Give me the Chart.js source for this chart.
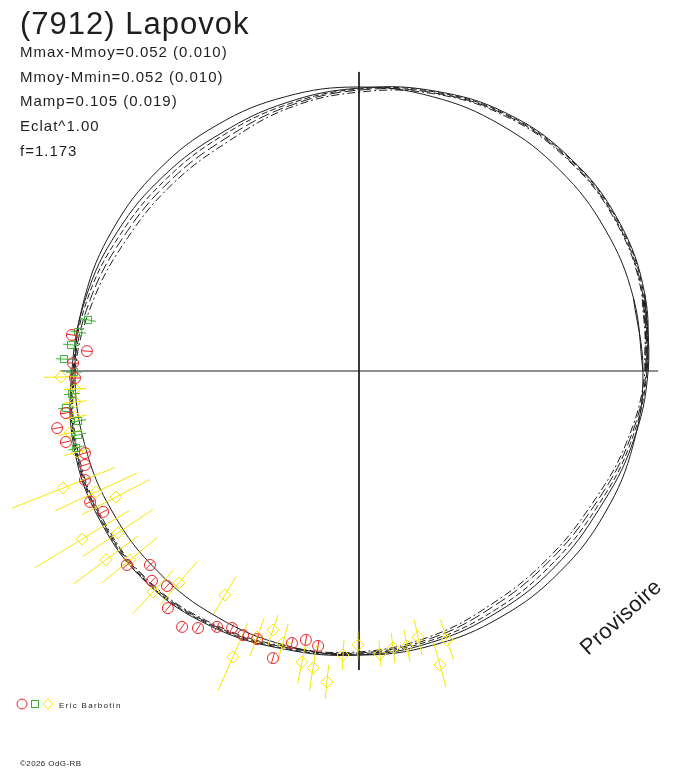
<!DOCTYPE html>
<html>
<head>
<meta charset="utf-8">
<script src="https://cdn.jsdelivr.net/npm/chart.js@4/dist/chart.umd.min.js"></script>
<style>
  html, body { margin: 0; padding: 0; background: #fff; }
  #lc { display: block; }
</style>
</head>
<body>
<canvas id="lc" width="688" height="768"></canvas>
<script>
// Polar light curve: angle = rotation phase, radius = 1 + scaled magnitude

// Phase angles (deg) for the fitted curves
const PHASE_DEG = [0, 15, 30, 45, 60, 75, 90, 105, 120, 135, 150, 165,
                   180, 195, 210, 225, 240, 255, 270, 285, 300, 315, 330, 345];

// Fourier fits, radius at each phase
const FIT_A = [1.018, 1.042, 1.056, 1.056, 1.046, 1.021, 0.996, 0.979, 0.968, 0.972, 0.982, 0.996,
               1.011, 1.039, 1.053, 1.056, 1.039, 1.014, 1.000, 0.989, 0.979, 0.975, 0.975, 0.996];
const FIT_B = [1.014, 1.039, 1.053, 1.053, 1.042, 1.018, 0.993, 0.972, 0.958, 0.958, 0.968, 0.989,
               1.007, 1.035, 1.049, 1.053, 1.035, 1.011, 0.996, 0.982, 0.968, 0.961, 0.965, 0.989];
const FIT_C = [1.011, 1.035, 1.049, 1.049, 1.039, 1.014, 0.989, 0.965, 0.944, 0.944, 0.954, 0.979,
               1.004, 1.032, 1.046, 1.049, 1.032, 1.007, 0.993, 0.975, 0.954, 0.947, 0.954, 0.982];
const FIT_D = [1.007, 1.032, 1.046, 1.046, 1.035, 1.011, 0.982, 0.958, 0.930, 0.930, 0.940, 0.968,
               1.000, 1.028, 1.042, 1.046, 1.028, 1.004, 0.989, 0.968, 0.944, 0.937, 0.944, 0.975];
const REF_R = 1.0;       // mean magnitude circle
const AXIS_HALF = 1.053; // cross hair half length

// Observations (x, y) and radial error
const RED_X = [-1.011, -0.958, -1.007, -1.000, -1.032, -1.063, -1.032, -0.965, -0.965, -0.965, -0.947, -0.901,
               -0.817, -0.736, -0.729, -0.676, -0.673, -0.623, -0.567, -0.500, -0.447, -0.408, -0.359, -0.303,
               -0.236, -0.187, -0.144];
const RED_Y = [0.127, 0.070, 0.028, -0.025, -0.148, -0.201, -0.250, -0.289, -0.331, -0.384, -0.461, -0.496,
               -0.683, -0.683, -0.739, -0.757, -0.835, -0.901, -0.905, -0.901, -0.905, -0.930, -0.944, -1.011,
               -0.958, -0.947, -0.968];
const RED_ERR = 0.018;

const GREEN_X = [-0.954, -0.989, -1.014, -1.039, -1.004, -1.011, -1.032, -0.989, -0.989, -0.996];
const GREEN_Y = [0.180, 0.137, 0.092, 0.042, -0.004, -0.081, -0.130, -0.176, -0.225, -0.271];
const GREEN_ERR = 0.028;

const YELLOW_X = [-1.049, -1.000, -1.000, -1.000, -1.018, -0.993, -1.042, -0.926, -0.856, -0.975, -0.849,
                  -0.891, -0.806, -0.725, -0.634, -0.472, -0.444, -0.359, -0.303, -0.268, -0.201, -0.162,
                  -0.113, -0.056, -0.004, 0.074, 0.120, 0.169, 0.208, 0.285, 0.310];
const YELLOW_Y = [-0.021, -0.063, -0.109, -0.162, -0.218, -0.285, -0.412, -0.426, -0.444, -0.592, -0.570,
                  -0.665, -0.665, -0.778, -0.746, -0.789, -1.007, -0.937, -0.912, -0.958, -1.025, -1.046,
                  -1.095, -1.000, -0.965, -0.996, -0.975, -0.968, -0.937, -1.035, -0.947];
const YELLOW_ERR = [0.060, 0.039, 0.042, 0.042, 0.042, 0.046, 0.194, 0.158, 0.134, 0.194, 0.148,
                    0.141, 0.127, 0.106, 0.099, 0.077, 0.130, 0.070, 0.056, 0.070, 0.077, 0.081,
                    0.060, 0.053, 0.049, 0.046, 0.053, 0.056, 0.063, 0.081, 0.074];

// Texts
const TITLE = '(7912) Lapovok';
const STATS = ['Mmax-Mmoy=0.052 (0.010)', 'Mmoy-Mmin=0.052 (0.010)', 'Mamp=0.105 (0.019)', 'Eclat^1.00', 'f=1.173'];
const OBSERVER = 'Eric Barbotin';
const STAMP = 'Provisoire';
const FOOTER = '\u00a92026 OdG-RB';

const RED = 'rgb(232,40,44)';
const GREEN = 'rgb(60,176,52)';
const YELLOW = 'rgb(246,230,0)';
const INK = '#1e1e1e';

// page geometry: pole at (359,371), 284 px per unit
const CX = 359, CY = 371, UNIT = 284, W = 688, H = 768;

function closedLoop(radii) {
  const pts = radii.map((r, i) => {
    const a = PHASE_DEG[i] * Math.PI / 180;
    return {x: r * Math.cos(a), y: r * Math.sin(a)};
  });
  // repeat first two so the spline closes smoothly
  return pts.concat([pts[0], pts[1]]);
}

function zipPts(xs, ys) {
  return xs.map((x, i) => ({x: x, y: ys[i]}));
}

function curve(radii, dash, order) {
  return {
    data: closedLoop(radii), showLine: true, pointRadius: 0, borderColor: INK,
    borderWidth: 1, borderDash: dash, tension: 0.4, order: order
  };
}

/** radial error bars, drawn right after their dataset */
const errorBars = {
  id: 'errorBars',
  afterDatasetDraw(chart, args) {
    const ds = chart.data.datasets[args.index];
    if (ds.err === undefined) return;
    const ctx = chart.ctx, sx = chart.scales.x, sy = chart.scales.y;
    ctx.save();
    ctx.strokeStyle = ds.borderColor;
    ctx.lineWidth = 1;
    ds.data.forEach((p, i) => {
      const e = Array.isArray(ds.err) ? ds.err[i] : ds.err;
      const r = Math.hypot(p.x, p.y);
      const ux = p.x / r, uy = p.y / r;
      ctx.beginPath();
      ctx.moveTo(sx.getPixelForValue(p.x - e * ux), sy.getPixelForValue(p.y - e * uy));
      ctx.lineTo(sx.getPixelForValue(p.x + e * ux), sy.getPixelForValue(p.y + e * uy));
      ctx.stroke();
    });
    ctx.restore();
  }
};

/** headers, legend, stamp and footer */
const annotations = {
  id: 'annotations',
  afterDraw(chart) {
    const ctx = chart.ctx;
    ctx.save();
    ctx.fillStyle = INK;
    ctx.textBaseline = 'alphabetic';
    ctx.textAlign = 'left';

    ctx.font = '31px "Liberation Sans", Arial, sans-serif';
    ctx.letterSpacing = '1px';
    ctx.fillText(TITLE, 20, 34);

    ctx.font = '15px "Liberation Sans", Arial, sans-serif';
    ctx.letterSpacing = '1px';
    STATS.forEach((s, i) => ctx.fillText(s, 20, 57 + i * 24.7));

    // observer legend
    ctx.lineWidth = 1;
    ctx.strokeStyle = RED;
    ctx.beginPath(); ctx.arc(22, 704, 5, 0, 2 * Math.PI); ctx.stroke();
    ctx.strokeStyle = GREEN;
    ctx.strokeRect(31.5, 700.5, 7, 7);
    ctx.strokeStyle = YELLOW;
    ctx.beginPath();
    ctx.moveTo(48, 699); ctx.lineTo(53, 704); ctx.lineTo(48, 709); ctx.lineTo(43, 704); ctx.closePath();
    ctx.stroke();
    ctx.font = '8px "Liberation Sans", Arial, sans-serif';
    ctx.letterSpacing = '1.3px';
    ctx.fillText(OBSERVER, 59, 708);

    ctx.letterSpacing = '0.4px';
    ctx.fillText(FOOTER, 20, 766);

    ctx.font = '22px "Liberation Sans", Arial, sans-serif';
    ctx.letterSpacing = '0.3px';
    ctx.translate(588, 656);
    ctx.rotate(-42 * Math.PI / 180);
    ctx.fillText(STAMP, 0, 0);
    ctx.restore();
  }
};

new Chart(document.getElementById('lc'), {
  type: 'scatter',
  data: {
    datasets: [
      {data: [{x: -AXIS_HALF, y: 0}, {x: AXIS_HALF, y: 0}], showLine: true, pointRadius: 0,
       borderColor: INK, borderWidth: 1, order: 20},
      {data: [{x: 0, y: AXIS_HALF}, {x: 0, y: -AXIS_HALF}], showLine: true, pointRadius: 0,
       borderColor: INK, borderWidth: 1, order: 20},
      curve(PHASE_DEG.map(() => REF_R), [], 15),
      curve(FIT_A, [], 14),
      curve(FIT_B, [6, 3], 13),
      curve(FIT_C, [11, 4], 12),
      curve(FIT_D, [8, 3, 2, 3], 11),
      {data: zipPts(YELLOW_X, YELLOW_Y), err: YELLOW_ERR, pointStyle: 'rectRot', pointRadius: 6,
       borderColor: YELLOW, backgroundColor: 'rgba(0,0,0,0)', borderWidth: 1, order: 3},
      {data: zipPts(GREEN_X, GREEN_Y), err: GREEN_ERR, pointStyle: 'rect', pointRadius: 5,
       borderColor: GREEN, backgroundColor: 'rgba(0,0,0,0)', borderWidth: 1, order: 2},
      {data: zipPts(RED_X, RED_Y), err: RED_ERR, pointStyle: 'circle', pointRadius: 5.5,
       borderColor: RED, backgroundColor: 'rgba(0,0,0,0)', borderWidth: 1, order: 1}
    ]
  },
  options: {
    responsive: false,
    animation: false,
    events: [],
    layout: {padding: 0, autoPadding: false},
    plugins: {legend: {display: false}, tooltip: {enabled: false}, title: {display: false}},
    scales: {
      x: {type: 'linear', display: false, min: -CX / UNIT, max: (W - CX) / UNIT},
      y: {type: 'linear', display: false, min: -(H - CY) / UNIT, max: CY / UNIT}
    }
  },
  plugins: [errorBars, annotations]
});
</script>
</body>
</html>
